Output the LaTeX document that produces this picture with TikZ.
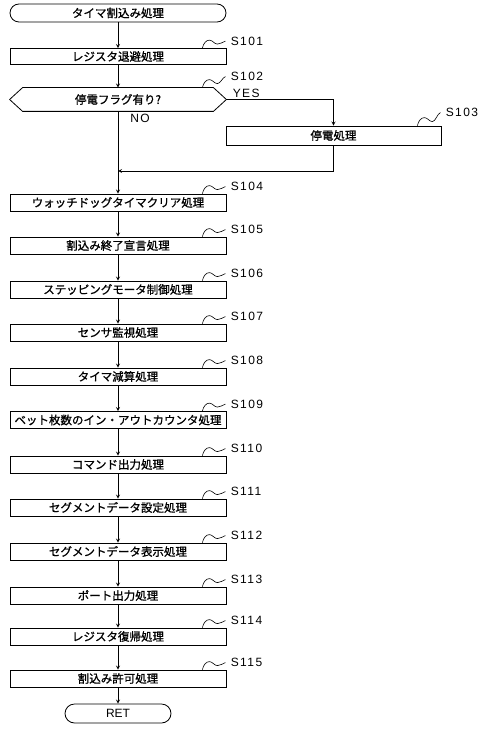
\documentclass[tikz,border=0pt]{standalone}
\usepackage{fontspec}
\setmainfont{Liberation Sans}
\newfontfamily\jp[FakeBold=1]{Noto Sans CJK JP}
\begin{document}
\begin{tikzpicture}[>=stealth,x=1pt,y=1pt,line width=0.8pt,
  proc/.style={draw,minimum width=216pt,minimum height=17pt,inner sep=0pt,font=\jp\fontsize{11.5}{12}\selectfont},
  term/.style={proc,minimum height=18pt,rounded corners=9pt},
  lbl/.style={anchor=west,inner sep=0pt,font=\fontsize{12}{12}\selectfont\addfontfeature{LetterSpace=12}}]
		\useasboundingbox (0,0) rectangle (480,-738);
		\node[term] (start) at (118,-13) {タイマ割込み処理};
		\node[proc,minimum height=16pt] (s101) at (118,-56.5) {レジスタ退避処理};
		\node[proc,draw=none,minimum height=23pt] (s102) at (118,-99.5) {停電フラグ有り?};
		\draw (s102.west)--([xshift=13pt]s102.north west)--([xshift=-13pt]s102.north east)--(s102.east)
		--([xshift=-13pt]s102.south east)--([xshift=13pt]s102.south west)--cycle;
		\node[proc,minimum width=215pt,minimum height=19pt] (s103) at (333.5,-135.5) {停電処理};
		\foreach \n/\y/\t in {s104/202.5/ウォッチドッグタイマクリア処理,s105/245.5/割込み終了宣言処理,
		s106/289.5/ステッピングモータ制御処理,s107/332.5/センサ監視処理,s108/376.5/タイマ減算処理,
		s109/420/ベット枚数のイン・アウトカウンタ処理,s110/464.5/コマンド出力処理,s111/507.5/セグメントデータ設定処理,
		s112/551.5/セグメントデータ表示処理,s113/595.5/ポート出力処理,s114/636.5/レジスタ復帰処理,s115/678.5/割込み許可処理}
		\node[proc] (\n) at (118,-\y) {\t};
		\node[term,minimum width=106pt,minimum height=19pt,rounded corners=9.5pt,font=\fontsize{12}{12}\selectfont] (ret) at (118,-713.5) {RET};
		% step labels
		\foreach \n/\s/\d in {s101/S101/7,s102/S102/11,s103/S103/13,s104/S104/7,s105/S105/7,s106/S106/7,s107/S107/7,
		s108/S108/7,s109/S109/7,s110/S110/7,s111/S111/7,s112/S112/7,s113/S113/7,s114/S114/7,s115/S115/7}{
		\node[lbl] (l\n) at ([xshift=4pt,yshift=\d pt]\n.north east) {\s};
		\draw[line width=0.6pt] ([xshift=-24pt]\n.north east) .. controls +(1,5) and +(-3,0) .. ++(7,8)
		.. controls +(3,0) and +(-3,0) .. ++(8,-4) .. controls +(3,0) and +(-3,-1) .. ([xshift=-5pt]l\n.west);
		}
		\node[lbl] (yes) at ([xshift=6pt,yshift=6.5pt]s102.east) {YES};
		\node[lbl] (no) at ([xshift=12pt,yshift=-7pt]s102.south) {NO};
		\coordinate (j) at (118,-171);
		\draw[->] (start)--(s101);
		\draw[->] (s101)--(s102);
		\draw[->] (s102.east)-|(s103.north);
		\draw[->] (s103.south)|-(j);
		\draw[->] (s102.south)--(s104.north);
		\foreach \a/\b in {s104/s105,s105/s106,s106/s107,s107/s108,s108/s109,s109/s110,s110/s111,
		s111/s112,s112/s113,s113/s114,s114/s115,s115/ret}
		\draw[->] (\a)--(\b);
		\end{tikzpicture}
\end{document}
